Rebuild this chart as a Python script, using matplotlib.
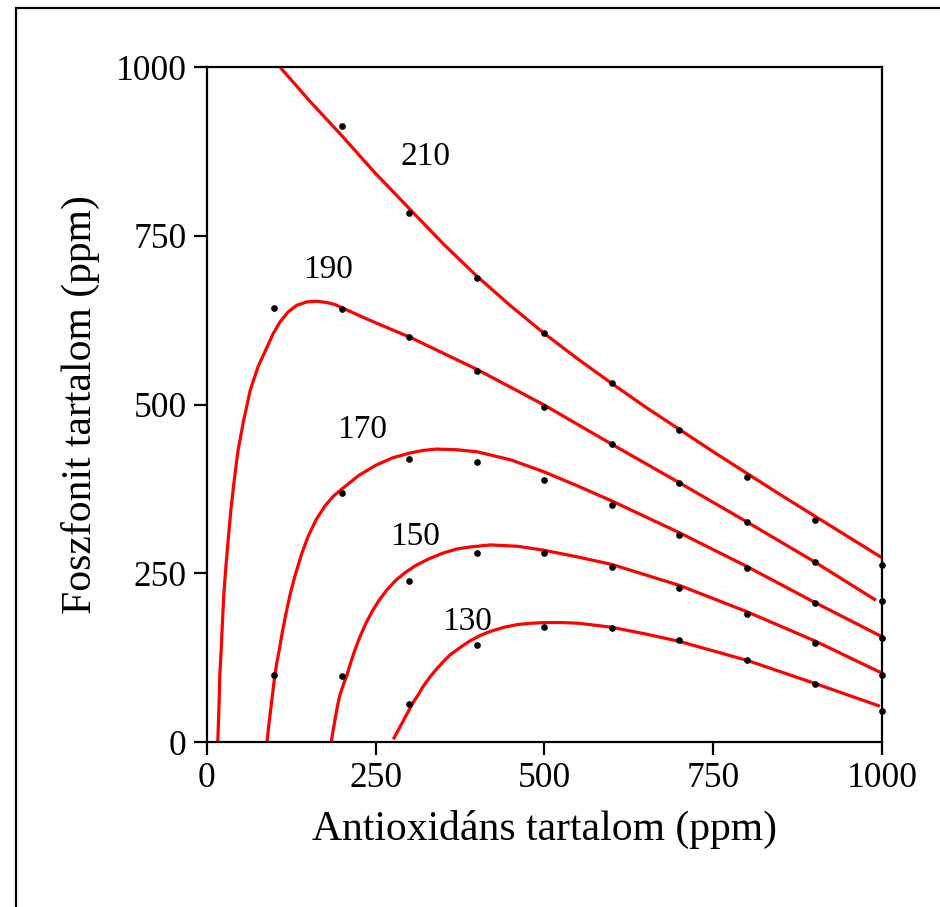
import matplotlib
matplotlib.use("Agg")
import matplotlib.pyplot as plt
from matplotlib.patches import Rectangle

plt.rcParams['font.family'] = ['Liberation Serif', 'DejaVu Serif']

# measured points (antioxidant ppm, phosphonite ppm)
pts_x_210 = [200, 300, 400, 500, 600, 700, 800, 900, 1000]
pts_y_210 = [912, 783, 687, 606, 532, 462, 393, 329, 262]
pts_x_190 = [100, 200, 300, 400, 500, 600, 700, 800, 900, 1000]
pts_y_190 = [643, 641, 600, 550, 496, 441, 384, 326, 267, 209]
pts_x_170 = [100, 200, 300, 400, 500, 600, 700, 800, 900, 1000]
pts_y_170 = [99, 369, 419, 415, 388, 351, 307, 258, 206, 154]
pts_x_150 = [200, 300, 400, 500, 600, 700, 800, 900, 1000]
pts_y_150 = [98, 239, 280, 280, 259, 228, 190, 147, 99]
pts_x_130 = [300, 400, 500, 600, 700, 800, 900, 1000]
pts_y_130 = [56, 144, 170, 169, 151, 121, 86, 46]

# fitted iso-lines
fit_x_210 = [108, 130, 150, 175, 200, 225, 250, 275, 300, 325, 350, 375, 400, 450,
             500, 550, 600, 650, 700, 750, 800, 850, 900, 950, 1000]
fit_y_210 = [1000, 975, 952, 925, 898, 870, 842, 816, 790, 764, 738, 714, 690, 646,
             605, 567, 531, 496, 463, 430, 398, 366, 335, 304, 273]
fit_x_190 = [16, 17, 18, 19, 21, 23, 25, 28, 31, 35, 40, 46, 54, 64, 76, 89, 98,
             108, 120, 133, 148, 163, 178, 190, 201, 225, 250, 300, 400, 500, 600,
             700, 800, 900, 991]
fit_y_190 = [0, 30, 60, 100, 136, 180, 220, 260, 295, 340, 385, 432, 475, 521, 557,
             585, 605, 622, 637, 647, 652, 653, 651, 648, 643, 632, 621, 600, 552,
             499, 441, 384, 326, 267, 210]
fit_x_170 = [89, 91, 94, 97, 100, 103, 107, 112, 117, 123, 130, 140, 150, 162, 175,
             187, 200, 225, 250, 275, 300, 320, 340, 370, 400, 450, 500, 550, 600,
             700, 800, 900, 1000]
fit_y_170 = [0, 20, 45, 70, 95, 115, 136, 165, 190, 218, 245, 278, 305, 330, 350,
             364, 375, 395, 410, 421, 428, 432, 434, 433, 430, 418, 400, 379, 357,
             310, 260, 207, 156]
fit_x_150 = [184, 187, 190, 193, 197, 202, 207, 213, 219, 227, 235, 245, 255, 267,
             280, 295, 310, 330, 350, 370, 390, 420, 460, 500, 550, 600, 700, 800,
             900, 1000]
fit_y_150 = [0, 18, 35, 52, 70, 85, 98, 118, 136, 157, 175, 194, 210, 226, 240,
             252, 262, 272, 280, 286, 289, 292, 290, 284, 274, 263, 232, 193, 150, 102]
fit_x_130 = [276, 283, 290, 298, 305, 313, 320, 330, 340, 350, 360, 375, 390, 405,
             420, 440, 460, 480, 500, 525, 550, 575, 600, 650, 700, 800, 900, 997]
fit_y_130 = [4, 17, 30, 45, 58, 70, 82, 96, 108, 119, 129, 140, 150, 158, 164, 170,
             174, 176, 177, 177, 176, 173, 170, 160, 149, 121, 87, 53]

labels = ['210', '190', '170', '150', '130']
label_x = [323, 179, 230, 308, 385]
label_y = [867, 699, 462, 304, 178]

fig = plt.figure(figsize=(9.4, 9.07), dpi=100)
ax = fig.add_axes([0.2202, 0.1819, 0.7181, 0.7442])

for fx, fy in [(fit_x_210, fit_y_210), (fit_x_190, fit_y_190), (fit_x_170, fit_y_170),
               (fit_x_150, fit_y_150), (fit_x_130, fit_y_130)]:
    ax.plot(fx, fy, color='red', lw=2.3, solid_capstyle='butt', solid_joinstyle='round',
            clip_on=False, zorder=2)

for px, py in [(pts_x_210, pts_y_210), (pts_x_190, pts_y_190), (pts_x_170, pts_y_170),
               (pts_x_150, pts_y_150), (pts_x_130, pts_y_130)]:
    ax.plot(px, py, 'o', color='black', ms=3.8, clip_on=False, zorder=3)

for t, lx, ly in zip(labels, label_x, label_y):
    ax.text(lx, ly, t, fontsize=24, ha='center', va='center')

ax.set_xlim(0, 1000)
ax.set_ylim(0, 1000)
ax.set_xticks([0, 250, 500, 750, 1000])
ax.set_yticks([0, 250, 500, 750, 1000])
ax.tick_params(direction='out', length=9.5, width=1.6, labelsize=25.5, pad=5,
               top=False, right=False)
for sp in ax.spines.values():
    sp.set_linewidth(1.6)

ax.set_xlabel('Antioxidáns tartalom (ppm)', fontsize=30)
ax.set_ylabel('Foszfonit tartalom (ppm)', fontsize=30)
ax.xaxis.set_label_coords(0.5, -0.10)
ax.yaxis.set_label_coords(-0.158, 0.5)

fig.patches.append(Rectangle((16 / 940, -0.2), 1.2, 0.2 + 1 - 8 / 907, transform=fig.transFigure,
                             fill=False, edgecolor='black', lw=1.6, clip_on=False))

fig.savefig('out.png', dpi=100)
